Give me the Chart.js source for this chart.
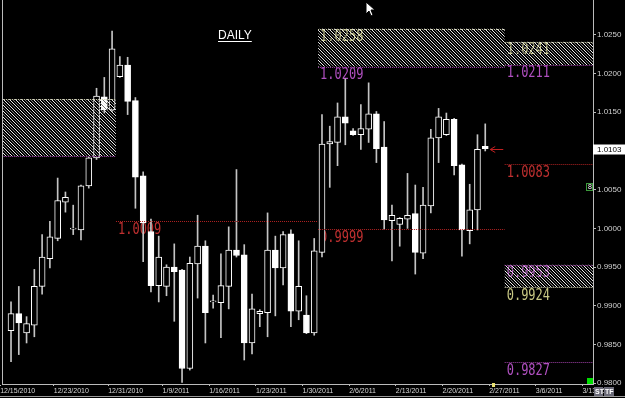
<!DOCTYPE html>
<html lang="en">
<head>
<meta charset="UTF-8">
<title>Daily</title>
<script src="https://cdn.jsdelivr.net/npm/chart.js"></script>
<style>
  html, body { margin: 0; padding: 0; background: #000; overflow: hidden; }
  #wrap { width: 625px; height: 398px; }
</style>
</head>
<body>
<div id="wrap"><canvas id="daily" width="625" height="398"></canvas></div>
<script>
// one candle per session (Sunday sessions included), 12/16/2010 .. 2/25/2011
const opens = [0.9868, 0.9890, 0.9865, 0.9875, 0.9925, 0.9961, 0.9987, 1.0034, 0.9999, 0.9998,
  1.0055, 1.0091, 1.0170, 1.0153, 1.0196, 1.0211, 1.0165, 1.0068, 0.9996, 0.9926,
  0.9925, 0.9950, 0.9946, 0.9819, 0.9954, 0.9977, 0.9905, 0.9904, 0.9925, 0.9972,
  0.9966, 0.9852, 0.9890, 0.9891, 0.9972, 0.9949, 0.9993, 0.9893, 0.9888, 0.9865,
  0.9969, 1.0109, 1.0111, 1.0144, 1.0126, 1.0121, 1.0128, 1.0148, 1.0105, 1.0010,
  1.0005, 1.0012, 1.0019, 0.9968, 1.0029, 1.0117, 1.0121, 1.0141, 1.0082, 0.9997,
  1.0024, 1.0106];
const highs = [0.9905, 0.9925, 0.9886, 0.9947, 0.9992, 1.0009, 1.0065, 1.0047, 1.0030, 1.0056,
  1.0092, 1.0181, 1.0195, 1.0255, 1.0222, 1.0221, 1.0169, 1.0073, 1.0012, 0.9990,
  0.9953, 0.9980, 0.9947, 0.9963, 1.0017, 0.9984, 0.9914, 0.9967, 1.0002, 1.0076,
  0.9979, 0.9915, 0.9895, 1.0020, 0.9990, 0.9996, 0.9998, 0.9984, 0.9913, 0.9987,
  1.0147, 1.0132, 1.0162, 1.0193, 1.0129, 1.0160, 1.0188, 1.0151, 1.0138, 1.0030,
  1.0014, 1.0071, 1.0056, 1.0053, 1.0128, 1.0155, 1.0149, 1.0142, 1.0083, 1.0057,
  1.0121, 1.0135];
const lows = [0.9828, 0.9837, 0.9852, 0.9860, 0.9915, 0.9949, 0.9984, 1.0021, 0.9992, 0.9985,
  1.0052, 1.0089, 1.0149, 1.0151, 1.0195, 1.0147, 1.0026, 0.9957, 0.9918, 0.9905,
  0.9913, 0.9880, 0.9801, 0.9817, 0.9910, 0.9852, 0.9897, 0.9859, 0.9896, 0.9963,
  0.9830, 0.9838, 0.9873, 0.9860, 0.9887, 0.9927, 0.9873, 0.9882, 0.9864, 0.9862,
  0.9963, 1.0053, 1.0081, 1.0108, 1.0120, 1.0102, 1.0111, 1.0085, 0.9999, 0.9958,
  0.9977, 1.0000, 0.9941, 0.9961, 1.0020, 1.0085, 1.0120, 1.0069, 0.9964, 0.9980,
  0.9998, 1.0100];
const closes = [0.9890, 0.9878, 0.9877, 0.9925, 0.9963, 0.9989, 1.0036, 1.0040, 0.9999, 1.0055,
  1.0091, 1.0171, 1.0153, 1.0232, 1.0211, 1.0164, 1.0066, 1.0007, 0.9926, 0.9963,
  0.9950, 0.9944, 0.9819, 0.9955, 0.9977, 0.9891, 0.9905, 0.9926, 0.9972, 0.9965,
  0.9852, 0.9896, 0.9893, 0.9972, 0.9949, 0.9992, 0.9893, 0.9925, 0.9865, 0.9971,
  1.0109, 1.0112, 1.0144, 1.0136, 1.0121, 1.0129, 1.0148, 1.0103, 1.0011, 1.0017,
  1.0013, 1.0017, 0.9969, 1.0030, 1.0117, 1.0144, 1.0141, 1.0081, 0.9998, 1.0024,
  1.0102, 1.0103];

// date ticks sit on the left edge of the session they name
const dateTickAt = [-1.4, 5.5, 12.5, 19.5, 25.5, 31.5, 37.5, 43.5, 49.5, 55.5, 61.5, 67.5, 73.5];
const dateTicks = ['12/15/2010', '12/23/2010', '12/31/2010', '1/9/2011', '1/16/2011', '1/23/2011',
  '1/30/2011', '2/6/2011', '2/13/2011', '2/20/2011', '2/27/2011', '3/6/2011', '3/13/2011'];
const priceTicks = [0.9800, 0.9850, 0.9900, 0.9950, 1.0000, 1.0050, 1.0100, 1.0150, 1.0200, 1.0250];

// monthly levels (start/end in session index)
const levelStart = [-14, -14, 13.5, 39.5, 39.5, 39.5, 63.5, 63.5, 63.5, 63.5, 63.5, 63.5];
const levelEnd = [13.5, 13.5, 39.5, 63.5, 63.5, 63.5, 80, 80, 80, 80, 80, 80];
const levelValue = [1.0167, 1.0093, 1.0009, 1.0258, 1.0209, 0.9999, 1.0241, 1.0211, 1.0083, 0.9953, 0.9924, 0.9827];
const levelKind = ['outer', 'inner', 'pivot', 'outer', 'inner', 'pivot', 'outer', 'inner', 'pivot', 'inner', 'outer', 'inner'];

// hatched bands between outer and inner levels
const zoneStart = [-14, 39.5, 63.5, 63.5];
const zoneEnd = [13.5, 63.5, 80, 80];
const zoneHigh = [1.0167, 1.0258, 1.0241, 0.9953];
const zoneLow = [1.0093, 1.0209, 1.0211, 0.9924];

const lastPrice = 1.0103;

const kindStyle = {
  outer: { line: '#d8d8b8', text: '#c8c884' },
  inner: { line: '#a040a8', text: '#b050c0' },
  pivot: { line: '#b02222', text: '#c03030' }
};

Chart.defaults.font.family = 'Liberation Sans, Arial, sans-serif';

function makeHatch(ctx) {
  const c = document.createElement('canvas');
  c.width = 6; c.height = 6;
  const g = c.getContext('2d');
  const img = g.createImageData(6, 6);
  for (let py = 0; py < 6; py++) {
    for (let px = 0; px < 6; px++) {
      const d = ((px - py) % 6 + 6) % 6;
      const k = (py * 6 + px) * 4;
      let v = -1;
      if (d === 0) v = 235;
      else if (d === 3) v = 120;
      if (v >= 0) {
        img.data[k] = v; img.data[k + 1] = v; img.data[k + 2] = v; img.data[k + 3] = 255;
      }
    }
  }
  g.putImageData(img, 0, 0);
  return ctx.createPattern(c, 'repeat');
}

function clipArea(ctx, a) {
  ctx.beginPath();
  ctx.rect(a.left, a.top, a.right - a.left, a.bottom - a.top);
  ctx.clip();
}

const levelsPlugin = {
  id: 'levels',
  beforeDraw(chart) {
    const ctx = chart.ctx;
    ctx.save();
    ctx.fillStyle = '#000';
    ctx.fillRect(0, 0, chart.width, chart.height);
    ctx.restore();
  },
  beforeDatasetsDraw(chart) {
    // level captions sit under the candles
    const { ctx, chartArea: a, scales: { x, y } } = chart;
    ctx.save();
    clipArea(ctx, a);
    ctx.font = '15px "DejaVu Sans Mono", monospace';
    ctx.textBaseline = 'top';
    ctx.textAlign = 'left';
    levelValue.forEach((v, i) => {
      const st = kindStyle[levelKind[i]];
      const x0 = x.getPixelForValue(levelStart[i]);
      const yy = y.getPixelForValue(v);
      ctx.save();
      ctx.translate(x0 + 2, yy + 1);
      ctx.scale(0.8, 1);
      ctx.fillStyle = st.text;
      ctx.fillText(v.toFixed(4), 0, 0);
      ctx.restore();
    });
    ctx.restore();
  },
  afterDatasetsDraw(chart) {
    const { ctx, chartArea: a, scales: { x, y } } = chart;
    ctx.save();
    clipArea(ctx, a);

    const hatch = makeHatch(ctx);
    zoneStart.forEach((s, i) => {
      const x0 = x.getPixelForValue(s), x1 = x.getPixelForValue(zoneEnd[i]);
      const y0 = y.getPixelForValue(zoneHigh[i]), y1 = y.getPixelForValue(zoneLow[i]);
      ctx.fillStyle = hatch;
      ctx.fillRect(x0, y0, x1 - x0, y1 - y0);
    });

    ctx.lineWidth = 1;
    ctx.setLineDash([1, 1]);
    levelValue.forEach((v, i) => {
      const st = kindStyle[levelKind[i]];
      const x0 = x.getPixelForValue(levelStart[i]), x1 = x.getPixelForValue(levelEnd[i]);
      const yy = Math.round(y.getPixelForValue(v)) + 0.5;
      ctx.strokeStyle = st.line;
      ctx.beginPath();
      ctx.moveTo(x0, yy);
      ctx.lineTo(x1, yy);
      ctx.stroke();
    });
    ctx.restore();
  },
  afterDraw(chart) {
    const { ctx, chartArea: a, scales: { x, y } } = chart;
    ctx.save();

    // left frame
    ctx.strokeStyle = '#bbbbbb';
    ctx.lineWidth = 1;
    ctx.beginPath();
    ctx.moveTo(a.left + 0.5, a.top);
    ctx.lineTo(a.left + 0.5, a.bottom);
    ctx.stroke();

    // title
    ctx.fillStyle = '#ffffff';
    ctx.font = '12px "Liberation Sans", Arial, sans-serif';
    ctx.textBaseline = 'alphabetic';
    ctx.textAlign = 'left';
    ctx.fillText('DAILY', 218, 39);
    const w = ctx.measureText('DAILY').width;
    ctx.fillRect(218, 41, w, 1);

    // last price arrow
    const lastX = x.getPixelForValue(closes.length - 1);
    const py = Math.round(y.getPixelForValue(lastPrice)) + 0.5;
    ctx.strokeStyle = '#c02020';
    ctx.beginPath();
    ctx.moveTo(lastX + 5, py);
    ctx.lineTo(lastX + 18, py);
    ctx.moveTo(lastX + 5, py);
    ctx.lineTo(lastX + 10, py - 3);
    ctx.moveTo(lastX + 5, py);
    ctx.lineTo(lastX + 10, py + 3);
    ctx.stroke();

    // last price box on the axis
    ctx.fillStyle = '#ffffff';
    ctx.fillRect(a.right, py - 5, chart.width - a.right, 10);
    ctx.fillStyle = '#000000';
    ctx.font = '8px "Liberation Sans", Arial, sans-serif';
    ctx.textBaseline = 'middle';
    ctx.fillText(lastPrice.toFixed(4), a.right + 4, py);

    // small markers
    ctx.strokeStyle = '#3c9a3c';
    ctx.fillStyle = '#000';
    ctx.fillRect(a.right - 7, 183, 7, 8);
    ctx.strokeRect(a.right - 6.5, 183.5, 6, 7);
    ctx.fillStyle = '#ffffff';
    ctx.font = '7px "Liberation Sans", Arial, sans-serif';
    ctx.fillText('8', a.right - 5, 187.5);

    ctx.fillStyle = '#00dd00';
    ctx.fillRect(a.right - 6, a.bottom - 6, 6, 6);
    ctx.fillStyle = '#e8e070';
    ctx.fillRect(x.getPixelForValue(62) - 1, a.bottom - 1, 3, 4);

    ctx.fillStyle = '#6a6a78';
    ctx.fillRect(594, 387, 9, 9);
    ctx.fillRect(604, 387, 10, 9);
    ctx.fillStyle = '#ffffff';
    ctx.font = 'bold 7px "Liberation Sans", Arial, sans-serif';
    ctx.fillText('ST', 595, 392);
    ctx.fillText('TF', 605, 392);

    ctx.fillStyle = '#9a9a9a';
    ctx.fillRect(0, 396, chart.width, 1);

    // mouse pointer
    ctx.fillStyle = '#ffffff';
    ctx.strokeStyle = '#000000';
    ctx.beginPath();
    ctx.moveTo(366, 2);
    ctx.lineTo(366, 14);
    ctx.lineTo(369, 11);
    ctx.lineTo(371, 16);
    ctx.lineTo(373, 15);
    ctx.lineTo(371, 10);
    ctx.lineTo(375, 10);
    ctx.closePath();
    ctx.fill();
    ctx.stroke();
    ctx.restore();
  }
};

const ctx = document.getElementById('daily').getContext('2d');
const chart = new Chart(ctx, {
  type: 'bar',
  data: {
    datasets: [
      {
        label: 'body',
        data: opens.map((o, i) => ({ x: i, y: [o, closes[i]] })),
        backgroundColor: opens.map((o, i) => closes[i] < o ? '#ffffff' : '#000000'),
        borderColor: '#ffffff',
        borderWidth: 1,
        borderSkipped: false,
        barThickness: 6,
        minBarLength: 1,
        grouped: false
      },
      {
        label: 'wick',
        data: highs.map((h, i) => ({ x: i, y: [lows[i], h] })),
        backgroundColor: '#c4c4c4',
        borderWidth: 0,
        barThickness: 1,
        grouped: false
      }
    ]
  },
  options: {
    responsive: false,
    animation: false,
    layout: { padding: { left: 2, top: 0, right: 0, bottom: 0 }, autoPadding: false },
    plugins: { legend: { display: false }, tooltip: { enabled: false } },
    scales: {
      x: {
        type: 'linear',
        min: -1.16,
        max: 74.86,
        offset: false,
        grid: { offset: false, drawOnChartArea: false, drawTicks: true, tickLength: 2, color: '#bbbbbb' },
        border: { color: '#bbbbbb' },
        afterBuildTicks: s => { s.ticks = dateTickAt.map(v => ({ value: v })); },
        afterFit: s => { s.height = 14; s.paddingLeft = 0; s.paddingRight = 0; },
        ticks: {
          autoSkip: false, maxRotation: 0, align: 'start', padding: 1,
          color: '#d8d8d8', font: { size: 7 },
          callback: (v, i) => dateTicks[i]
        }
      },
      y: {
        position: 'right',
        min: 0.9799,
        max: 1.0295,
        grid: { drawOnChartArea: false, drawTicks: true, tickLength: 3, color: '#bbbbbb' },
        border: { color: '#bbbbbb' },
        afterBuildTicks: s => { s.ticks = priceTicks.map(v => ({ value: v })); },
        afterFit: s => { s.width = 32; s.paddingTop = 0; s.paddingBottom = 0; },
        ticks: {
          padding: 1, color: '#d0d0d0', font: { size: 8 },
          callback: v => Number(v).toFixed(4)
        }
      }
    }
  },
  plugins: [levelsPlugin]
});
</script>
</body>
</html>
